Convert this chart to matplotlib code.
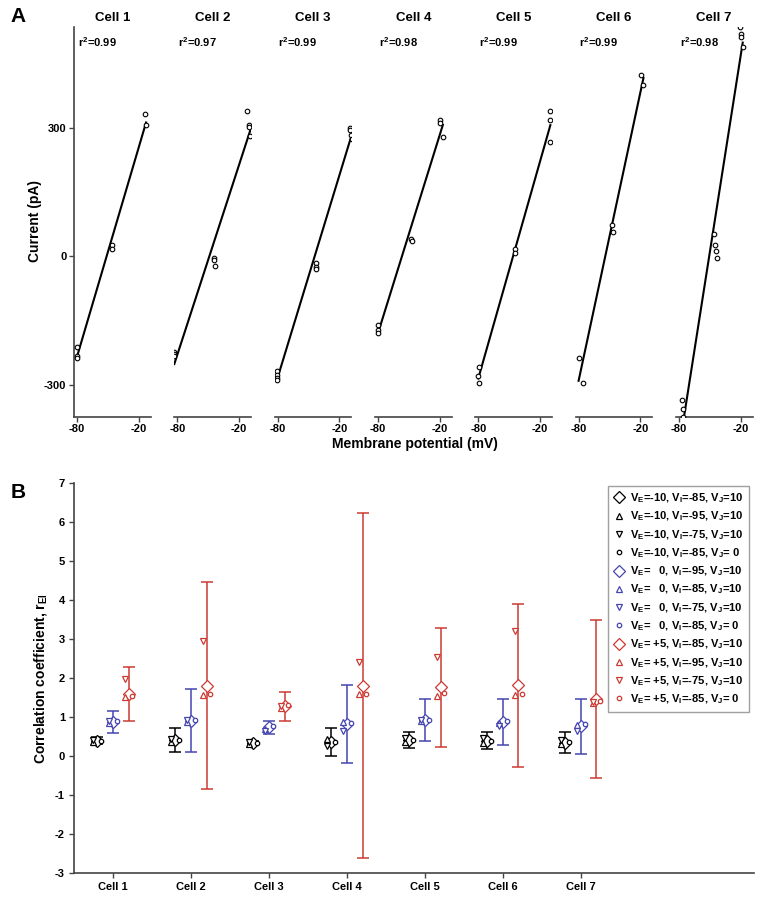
import numpy as np
import matplotlib
matplotlib.use("Agg")
import matplotlib.pyplot as plt

plt.rcParams['font.family'] = ['Liberation Sans', 'DejaVu Sans']
plt.rcParams['font.weight'] = 'bold'
plt.rcParams['axes.unicode_minus'] = False
plt.rcParams['mathtext.fontset'] = 'custom'
plt.rcParams['mathtext.rm'] = 'Liberation Sans:bold'
plt.rcParams['mathtext.bf'] = 'Liberation Sans:bold'
plt.rcParams['mathtext.it'] = 'Liberation Sans:bold'
plt.rcParams['mathtext.default'] = 'bf'

# ---- panel A data : I-V points per cell ----
cell1_v = [-80, -80, -80, -46, -46, -14, -13]
cell1_i = [-212, -233, -237, 26, 17, 332, 306]
cell2_v = [-83, -83, -83, -44, -44, -43, -12, -10, -10, -9]
cell2_i = [-225, -229, -233, -5, -10, -23, 339, 307, 302, 281]
cell3_v = [-81, -81, -81, -81, -43, -43, -43, -10, -10, -9, -8]
cell3_i = [-268, -278, -284, -290, -17, -25, -31, 298, 294, 283, 273]
cell4_v = [-80, -80, -80, -48, -47, -20, -20, -17]
cell4_i = [-160, -172, -180, 41, 36, 319, 311, 279]
cell5_v = [-79, -80, -79, -44, -44, -10, -10, -10]
cell5_i = [-258, -279, -297, 16, 8, 339, 318, 267]
cell6_v = [-80, -76, -48, -47, -19, -17]
cell6_i = [-237, -296, 72, 57, 424, 399]
cell7_v = [-77, -76, -76, -46, -45, -44, -43, -21, -20, -20, -18]
cell7_i = [-336, -356, -375, 51, 27, 12, -4, 535, 518, 511, 489]
r2_labels = ["0.99", "0.97", "0.99", "0.98", "0.99", "0.99", "0.98"]

iv_v = [cell1_v, cell2_v, cell3_v, cell4_v, cell5_v, cell6_v, cell7_v]
iv_i = [cell1_i, cell2_i, cell3_i, cell4_i, cell5_i, cell6_i, cell7_i]

# ---- panel B data : r_EI per cell ----
cells = ["Cell 1", "Cell 2", "Cell 3", "Cell 4", "Cell 5", "Cell 6", "Cell 7"]
# V_E = -10
neg_dia = [0.39, 0.41, 0.33, 0.36, 0.41, 0.39, 0.34]
neg_up = [0.37, 0.36, 0.31, 0.44, 0.36, 0.33, 0.30]
neg_down = [0.41, 0.44, 0.35, 0.25, 0.45, 0.45, 0.42]
neg_circ = [0.39, 0.40, 0.33, 0.37, 0.40, 0.39, 0.36]
neg_err = [0.09, 0.30, 0.05, 0.35, 0.20, 0.22, 0.27]
# V_E = 0
zero_dia = [0.88, 0.91, 0.74, 0.82, 0.92, 0.87, 0.76]
zero_up = [0.85, 0.88, 0.70, 0.86, 0.90, 0.84, 0.80]
zero_down = [0.90, 0.93, 0.65, 0.63, 0.93, 0.78, 0.65]
zero_circ = [0.89, 0.93, 0.78, 0.85, 0.92, 0.90, 0.82]
zero_err = [0.28, 0.81, 0.17, 1.01, 0.53, 0.58, 0.70]
# V_E = +5
pos_dia = [1.60, 1.80, 1.28, 1.80, 1.76, 1.81, 1.46]
pos_up = [1.52, 1.57, 1.22, 1.58, 1.55, 1.57, 1.36]
pos_down = [1.97, 2.95, 1.27, 2.42, 2.54, 3.21, 1.38]
pos_circ = [1.55, 1.60, 1.30, 1.58, 1.62, 1.60, 1.42]
pos_err = [0.69, 2.65, 0.37, 4.42, 1.53, 2.08, 2.02]

labels = [
    "V$_E$=-10, V$_I$=-85, V$_J$=10",
    "V$_E$=-10, V$_I$=-95, V$_J$=10",
    "V$_E$=-10, V$_I$=-75, V$_J$=10",
    "V$_E$=-10, V$_I$=-85, V$_J$= 0",
    "V$_E$=   0, V$_I$=-95, V$_J$=10",
    "V$_E$=   0, V$_I$=-85, V$_J$=10",
    "V$_E$=   0, V$_I$=-75, V$_J$=10",
    "V$_E$=   0, V$_I$=-85, V$_J$= 0",
    "V$_E$= +5, V$_I$=-85, V$_J$=10",
    "V$_E$= +5, V$_I$=-95, V$_J$=10",
    "V$_E$= +5, V$_I$=-75, V$_J$=10",
    "V$_E$= +5, V$_I$=-85, V$_J$= 0",
]

W, H = 762, 900
fig = plt.figure(figsize=(7.62, 9.0), dpi=100)
spine_c = '#444444'

# ---------------- panel A ----------------
for k in range(7):
    left = 74 + 100.3 * k
    ax = fig.add_axes([left / W, 1 - 416.7 / H, 76.7 / W, 389.7 / H])
    v = np.array(iv_v[k], dtype=float)
    cur = np.array(iv_i[k], dtype=float)
    ax.plot(v, cur, 'o', mfc='white', mec='black', ms=3.3, mew=0.8, zorder=3)
    p = np.polyfit(v, cur, 1)
    xs = np.array([v.min(), v.max()])
    ax.plot(xs, np.polyval(p, xs), color='black', lw=1.5, zorder=2)
    ax.set_xlim(-83, -8.5)
    ax.set_ylim(-375, 535)
    ax.set_xticks([-80, -20])
    ax.tick_params(axis='x', labelsize=8, length=3.5, width=1, color=spine_c, pad=1.5)
    for s in ['top', 'right']:
        ax.spines[s].set_visible(False)
    ax.spines['bottom'].set_color(spine_c)
    ax.spines['bottom'].set_linewidth(1.2)
    if k == 0:
        ax.set_yticks([-300, 0, 300])
        ax.tick_params(axis='y', labelsize=8, length=3.5, width=1, color=spine_c, pad=2)
        ax.spines['left'].set_color(spine_c)
        ax.spines['left'].set_linewidth(1.2)
    else:
        ax.spines['left'].set_visible(False)
        ax.set_yticks([])
    ax.set_title(cells[k], fontsize=9.5, fontweight='bold', pad=4)
    ax.text(0.05, 0.96, "r$^2$=" + r2_labels[k], transform=ax.transAxes,
            fontsize=8, fontweight='bold', ha='left', va='center')

fig.text(35 / W, 1 - 221 / H, "Current (pA)", rotation=90, ha='center', va='center',
         fontsize=10, fontweight='bold')
fig.text(415 / W, 1 - 444 / H, "Membrane potential (mV)", ha='center', va='center',
         fontsize=10, fontweight='bold')
fig.text(18 / W, 1 - 16 / H, "A", ha='center', va='center', fontsize=15, fontweight='bold')
fig.text(18 / W, 1 - 493 / H, "B", ha='center', va='center', fontsize=15, fontweight='bold')

# ---------------- panel B ----------------
axb = fig.add_axes([74 / W, 1 - 873 / H, 680 / W, 390 / H])
xpos = np.arange(1, 8)
groups = [
    ('black', -0.2, neg_dia, neg_up, neg_down, neg_circ, neg_err),
    ('#4545b0', 0.0, zero_dia, zero_up, zero_down, zero_circ, zero_err),
    ('#cc3a33', 0.2, pos_dia, pos_up, pos_down, pos_circ, pos_err),
]
handles = []
for col, off, dia, up, down, circ, err in groups:
    x = xpos + off
    axb.errorbar(x, dia, yerr=err, fmt='none', ecolor=col, elinewidth=1.1,
                 capsize=4.5, capthick=1.1, zorder=2)
    h1, = axb.plot(x, dia, 'D', ms=6.5, mfc='white', mec=col, mew=0.9, zorder=3)
    h2, = axb.plot(x - 0.05, up, '^', ms=4.5, mfc='white', mec=col, mew=0.9, zorder=3)
    h3, = axb.plot(x - 0.05, down, 'v', ms=4.5, mfc='white', mec=col, mew=0.9, zorder=3)
    h4, = axb.plot(x + 0.05, circ, 'o', ms=3.2, mfc='white', mec=col, mew=0.9, zorder=3)
    handles += [h1, h2, h3, h4]

axb.set_xlim(0.5, 9.22)
axb.set_ylim(-3, 7)
axb.set_xticks(xpos)
axb.set_xticklabels(cells)
axb.set_yticks(range(-3, 8))
axb.tick_params(labelsize=8, length=3.5, width=1, color=spine_c, pad=3)
for s in ['top', 'right']:
    axb.spines[s].set_visible(False)
for s in ['left', 'bottom']:
    axb.spines[s].set_color(spine_c)
    axb.spines[s].set_linewidth(1.2)
axb.set_ylabel("Correlation coefficient, r$_{EI}$", fontsize=10, fontweight='bold', labelpad=4)

leg = axb.legend(handles, labels, loc='upper left', bbox_to_anchor=(608 / W, 1 - 486 / H),
                 bbox_transform=fig.transFigure, fontsize=8, frameon=True, fancybox=False,
                 edgecolor='#888888', handlelength=1.0, handletextpad=0.5,
                 labelspacing=0.42, borderpad=0.5, borderaxespad=0)
leg.get_frame().set_linewidth(1.0)

fig.savefig("out.png", dpi=100)
